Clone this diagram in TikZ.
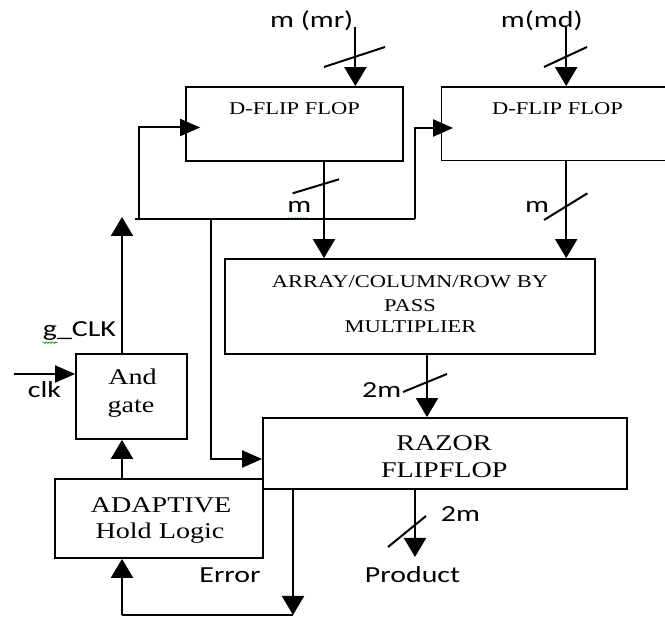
\documentclass[tikz,border=0pt]{standalone}
\usepackage{fontspec}
\usepackage{graphicx}
\setmainfont{Liberation Serif}
\newfontfamily\sansf{Carlito}
\usetikzlibrary{arrows.meta,calc,decorations.pathmorphing}
\newcommand\stser[1]{\scalebox{1.25}[1]{#1}}
\newcommand\stsan[1]{\scalebox{1.3}[1]{#1}}
\tikzset{
  box/.style={draw, line width=1.8pt, inner sep=0pt},
  wire/.style={line width=2pt},
  arrv/.style={wire, -{Triangle[length=19pt,width=22pt]}},
  arrh/.style={wire, -{Triangle[length=20pt,width=17pt]}},
  slash/.style={line width=2pt},
  txtS/.style={inner sep=0pt, anchor=base, font=\fontsize{18}{20}\selectfont},
  txtL/.style={inner sep=0pt, anchor=base, font=\fontsize{22.5}{25}\selectfont},
  lbl/.style={inner sep=0pt, anchor=base, font=\sansf\fontsize{23}{25}\selectfont},
  squig/.style={draw=green!55!black, line width=0.6pt, decorate,
    decoration={snake, amplitude=0.8pt, segment length=3pt}}
}
\begin{document}
\begin{tikzpicture}[x=1pt,y=-1pt]
\useasboundingbox (0,0) rectangle (665,617);

% boxes
\node[box, minimum width=217pt, minimum height=74pt] (dff1) at (294.5,124) {};
\node[box, minimum width=232.5pt, minimum height=73.5pt] (dff2) at (557.75,123.75) {};
\node[box, minimum width=370pt, minimum height=95pt] (mult) at (410,306.5) {};
\node[box, minimum width=364pt, minimum height=71pt] (razor) at (445,453.5) {};
\node[box, minimum width=111pt, minimum height=85pt] (andg) at (131.5,396.5) {};
\node[box, minimum width=208pt, minimum height=79pt] (adapt) at (159,518.5) {};

% box texts
\node[txtS] (dff1t) at (294.5,115) {\stser{D-FLIP FLOP}};
\node[txtS] (dff2t) at (557.5,115) {\stser{D-FLIP FLOP}};
\node[txtS] (multa) at (410,288) {\stser{ARRAY/COLUMN/ROW BY}};
\node[txtS] (multb) at (410,311.5) {\stser{PASS}};
\node[txtS] (multc) at (410.5,332.5) {\stser{MULTIPLIER}};
\node[txtL] (razora) at (444,451) {\stser{RAZOR}};
\node[txtL] (razorb) at (444.3,478) {\stser{FLIPFLOP}};
\node[txtL] (anda) at (132.5,385) {\stser{And}};
\node[txtL] (andb) at (131,413) {\stser{gate}};
\node[txtL] (adapta) at (161,512.5) {\stser{ADAPTIVE}};
\node[txtL] (adaptb) at (160,539) {\stser{Hold Logic}};

% labels
\node[lbl] (lmr) at (311.7,28) {\stsan{m (mr)}};
\node[lbl] (lmd) at (541.8,28) {\stsan{m(md)}};
\node[lbl] (lm1) at (299.2,213) {\stsan{m}};
\node[lbl] (lm2) at (537.1,213) {\stsan{m}};
\node[lbl] (l2m) at (381.7,398) {\stsan{2m}};
\node[lbl] (lgclk) at (79.5,337) {\stsan{g\_CLK}};
\node[lbl] (lclk) at (44.5,398) {\stsan{clk}};
\node[lbl] (l2mp) at (460.5,521.5) {\stsan{2m}};
\node[lbl] (lprod) at (412.5,583) {\stsan{Product}};
\node[lbl] (lerr) at (230,583) {\stsan{Error}};

% spell-check squiggles
\draw[squig] (288,218.5) -- (310,218.5);
\draw[squig] (42.5,342.7) -- (57.5,342.7);

% coordinates
\coordinate (mrin) at (355.4,26.7);
\coordinate (mdin) at (566.2,26.7);
\coordinate (o1) at (324,0);
\coordinate (o2) at (566.2,0);
\coordinate (ckL) at (135,219.3);
\coordinate (ckA) at (139,219.3);
\coordinate (ckB) at (415,219.3);
\coordinate (ckC) at (211,219.3);
\coordinate (ck1) at (139,127.5);
\coordinate (ck2) at (415,128);
\coordinate (gx) at (122,0);
\coordinate (gtop) at (122,217);
\coordinate (clkin) at (14,374);
\coordinate (rz) at (211,459);
\coordinate (mo) at (427,0);
\coordinate (po) at (415,557);
\coordinate (eo) at (293,0);
\coordinate (ebot) at (293,615);
\coordinate (lbot) at (122,615);

% inputs
\draw[arrv] (mrin) -- (mrin |- dff1.north);
\draw[slash] (324,67) -- (385,47);
\draw[arrv] (mdin) -- (mdin |- dff2.north);
\draw[slash] (544,67) -- (587,47);

% flip-flop outputs to multiplier
\draw[arrv] (o1 |- dff1.south) -- (o1 |- mult.north);
\draw[slash] (292.7,193.3) -- (339,179.3);
\draw[arrv] (o2 |- dff2.south) -- (o2 |- mult.north);
\draw[slash] (544,220) -- (587.4,193.3);

% clock net
\draw[wire] (ckL) -- (ckB);
\draw[arrh] (ckA) -- (ck1) -- ($(dff1.west |- ck1)+(15,0)$);
\draw[arrh] (ckB) -- (ck2) -- ($(dff2.west |- ck2)+(12.5,0)$);
\draw[arrh] (ckC) -- (rz) -- (razor.west |- rz);

% and gate
\draw[arrv] (gx |- andg.north) -- (gtop);
\draw[arrh] (clkin) -- (andg.west |- clkin);
\draw[arrv] (gx |- adapt.north) -- (gx |- andg.south);

% multiplier to razor
\draw[arrv] (mo |- mult.south) -- (mo |- razor.north);
\draw[slash] (403,392) -- (447,374);

% product
\draw[arrv] (po |- razor.south) -- (po);
\draw[slash] (388,547) -- (426,516);

% error feedback
\draw[arrv] (eo |- razor.south) -- (ebot);
\draw[wire] (ebot) -- (lbot);
\draw[arrv] (lbot) -- (lbot |- adapt.south);
\end{tikzpicture}
\end{document}
